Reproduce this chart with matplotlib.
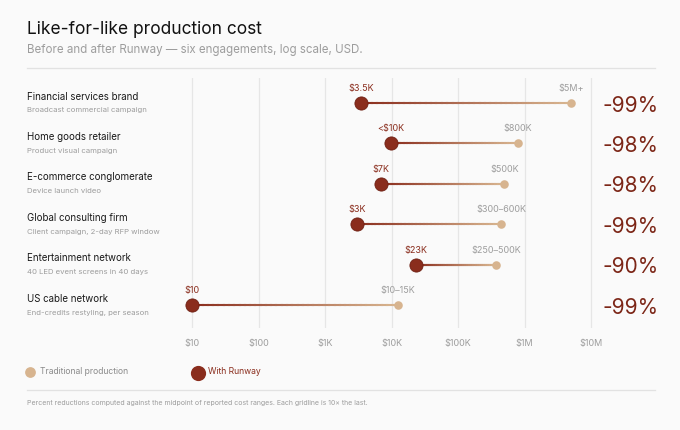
import numpy as np
import matplotlib.pyplot as plt
from matplotlib.collections import LineCollection
from matplotlib.colors import LinearSegmentedColormap

plt.rcParams["font.family"] = ["Inter", "DejaVu Sans"]

# --- data
clients = [
    "Financial services brand",
    "Home goods retailer",
    "E-commerce conglomerate",
    "Global consulting firm",
    "Entertainment network",
    "US cable network",
]
projects = [
    "Broadcast commercial campaign",
    "Product visual campaign",
    "Device launch video",
    "Client campaign, 2-day RFP window",
    "40 LED event screens in 40 days",
    "End-credits restyling, per season",
]
traditional = [5_000_000, 800_000, 500_000, 450_000, 375_000, 12_500]
runway = [3_500, 9_700, 7_000, 3_000, 23_000, 10]
trad_labels = ["$5M+", "$800K", "$500K", "$300–600K", "$250–500K", "$10–15K"]
runway_labels = ["$3.5K", "<$10K", "$7K", "$3K", "$23K", "$10"]
reductions = ["-99%", "-98%", "-98%", "-99%", "-90%", "-99%"]
tick_vals = [10, 100, 1e3, 1e4, 1e5, 1e6, 1e7]
tick_labels = ["$10", "$100", "$1K", "$10K", "$100K", "$1M", "$10M"]

DARK = "#8a2d1d"
TAN = "#d7b48f"
PCT = "#7c2617"
GRID = "#e6e6e6"
GRAY = "#9d9d9d"
BG = "#fafafa"

W, H = 680, 430
fig = plt.figure(figsize=(W / 100, H / 100), dpi=100, facecolor=BG)


def fx(px):
    return px / W


def fy(py):
    return 1 - py / H


# overlay in pixel coords for rules and legend
deco = fig.add_axes([0, 0, 1, 1], zorder=0)
deco.set_xlim(0, W)
deco.set_ylim(H, 0)
deco.axis("off")

# main axes: $10 gridline at px 192, 66.5 px per decade
x0_px, x1_px, ppd = 150, 600, 66.5
y_top, y_bot, row0, row_h = 78, 328, 103, 40.4
ax = fig.add_axes([fx(x0_px), fy(y_bot), (x1_px - x0_px) / W, (y_bot - y_top) / H])
ax.set_facecolor("none")
ax.set_xscale("log")
ax.set_xlim(10 ** (1 + (x0_px - 192) / ppd), 10 ** (1 + (x1_px - 192) / ppd))
ax.set_ylim((y_bot - row0) / row_h, (y_top - row0) / row_h)
for s in ax.spines.values():
    s.set_visible(False)
ax.set_yticks([])
ax.set_xticks(tick_vals)
ax.set_xticklabels(tick_labels)
ax.xaxis.set_minor_locator(plt.NullLocator())
ax.tick_params(axis="x", length=0, pad=8, labelsize=6.5, labelcolor=GRAY)
for v in tick_vals:
    ax.axvline(v, color=GRID, lw=0.9, zorder=0)

cmap = LinearSegmentedColormap.from_list("rw", [DARK, TAN])
for i in range(len(clients)):
    r, t = runway[i], traditional[i]
    # gradient connector
    xs = np.logspace(np.log10(r), np.log10(t), 40)
    pts = np.column_stack([xs, np.full_like(xs, i)])
    segs = np.stack([pts[:-1], pts[1:]], axis=1)
    lc = LineCollection(segs, cmap=cmap, linewidths=1.5, zorder=2, capstyle="projecting")
    lc.set_array(np.linspace(0, 1, len(segs)))
    ax.add_collection(lc)
    ax.scatter([t], [i], s=38, color=TAN, zorder=3, linewidths=0)
    ax.scatter([r], [i], s=90, color=DARK, edgecolors="#6e2013", linewidths=0.6, zorder=4)
    ax.annotate(runway_labels[i], (r, i), xytext=(0, 10.5), textcoords="offset points",
                ha="center", va="center", fontsize=6.5, color=DARK)
    ax.annotate(trad_labels[i], (t, i), xytext=(0, 10.5), textcoords="offset points",
                ha="center", va="center", fontsize=6.5, color=GRAY)

    yrow = row0 + row_h * i
    fig.text(fx(27), fy(yrow - 6.5), clients[i], fontsize=7.0, color="#1a1a1a", va="center")
    fig.text(fx(27), fy(yrow + 7.5), projects[i], fontsize=5.6, color=GRAY, va="center")
    fig.text(fx(602), fy(yrow + 2.5), reductions[i], fontsize=15, color=PCT, va="center")

# header
fig.text(fx(27), fy(30), "Like-for-like production cost", fontsize=12.5, color="#111111", va="center")
fig.text(fx(27), fy(50.5), "Before and after Runway — six engagements, log scale, USD.",
         fontsize=8.3, color=GRAY, va="center")
deco.plot([27, 655], [68, 68], color="#e2e2e2", lw=0.9)

# legend
deco.scatter([30], [372], s=60, color=TAN, linewidths=0)
deco.text(40, 371.5, "Traditional production", fontsize=6.2, color="#8a8a8a", va="center")
deco.scatter([198], [373], s=120, color=DARK, linewidths=0)
deco.text(208, 371.5, "With Runway", fontsize=6.2, color=DARK, va="center")
deco.plot([27, 655], [390, 390], color="#e2e2e2", lw=0.9)
fig.text(fx(27), fy(403),
         "Percent reductions computed against the midpoint of reported cost ranges. "
         "Each gridline is 10× the last.", fontsize=5.0, color=GRAY, va="center")

fig.savefig("out.png", dpi=100, facecolor=BG)
